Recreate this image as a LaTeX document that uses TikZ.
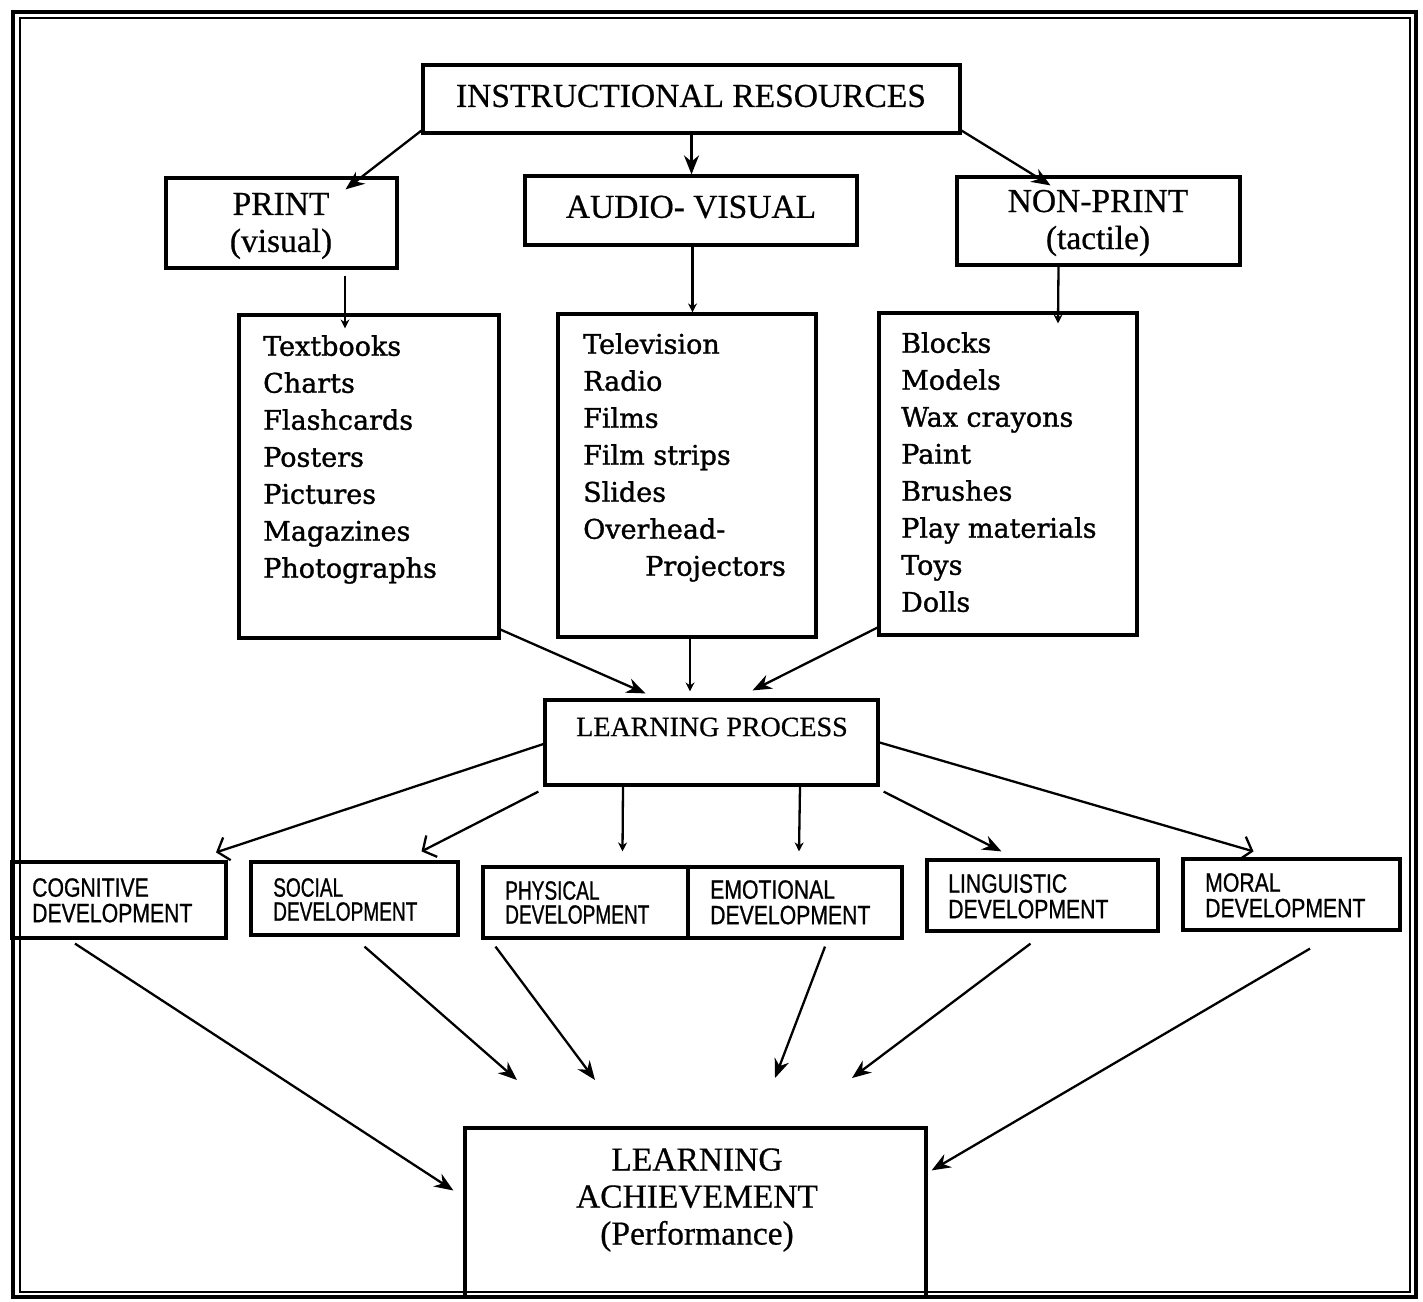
\documentclass[tikz,border=0pt]{standalone}
\usepackage{fontspec}
\setmainfont{Liberation Serif}
\newfontfamily\hdrfont[FakeBold=0.6]{Liberation Serif}
\newfontfamily\listfont[FakeBold=1.2]{DejaVu Serif}
\newfontfamily\devfont[FakeStretch=0.80,FakeBold=0.8]{Liberation Sans}
\newfontfamily\devfontn[FakeStretch=0.72,FakeBold=0.8]{Liberation Sans}
\usetikzlibrary{arrows.meta}
\begin{document}
\begin{tikzpicture}[x=1pt,y=-1pt,
  box/.style={draw,line width=3.2pt,inner sep=0pt,anchor=center},
  hdr/.style={font=\hdrfont\fontsize{33.5}{37}\selectfont,align=center,inner sep=0pt},
  lst/.style={font=\listfont\fontsize{27}{37}\selectfont,align=left,inner sep=0pt,anchor=north west},
  devt/.style={font=\devfont\fontsize{26.5}{25.5}\selectfont,align=left,inner sep=0pt,anchor=north west},
  devtn/.style={font=\devfontn\fontsize{26.5}{24}\selectfont,align=left,inner sep=0pt,anchor=north west},
  arr/.style={line width=2.3pt,-{Stealth[length=19pt,width=15pt]}},
  oarr/.style={line width=2.3pt,-{Straight Barb[length=10pt,width=24pt,line width=2.3pt]}},
  tarr/.style={line width=2.3pt,-{Stealth[length=9pt,width=9pt]}}]
\useasboundingbox (0,0) rectangle (1423,1301);
% outer frame
\draw[line width=3.5pt] (13,12) rectangle (1416,1297);
\draw[line width=1.2pt] (20,18) rectangle (1410,1292);

% top level
\node[box,minimum width=537pt,minimum height=68pt] (ir) at (691.5,99) {};
\node[hdr] (irt) at (691,96) {INSTRUCTIONAL RESOURCES};
\node[box,minimum width=231pt,minimum height=90pt] (print) at (281.5,223) {};
\node[hdr] (printt) at (281,226) {PRINT\\(visual)};
\node[box,minimum width=332pt,minimum height=69pt] (av) at (691,210.5) {};
\node[hdr] (avt) at (691,207) {AUDIO- VISUAL};
\node[box,minimum width=283pt,minimum height=88pt] (np) at (1098.5,221) {};
\node[hdr] (npt) at (1098,223) {NON-PRINT\\(tactile)};

% lists
\node[box,minimum width=260pt,minimum height=323pt] (pl) at (369,476.5) {};
\node[box,minimum width=258pt,minimum height=323pt] (avl) at (687,475.5) {};
\node[box,minimum width=258pt,minimum height=322pt] (npl) at (1008,474) {};
\node[lst] (plt) at (263,335) {Textbooks\\Charts\\Flashcards\\Posters\\Pictures\\Magazines\\Photographs};
\node[lst] (avlt) at (583,333) {Television\\Radio\\Films\\Film strips\\Slides\\Overhead-\\\hspace*{62pt}Projectors};
\node[lst] (nplt) at (901,332) {Blocks\\Models\\Wax crayons\\Paint\\Brushes\\Play materials\\Toys\\Dolls};

% learning process
\node[box,minimum width=333pt,minimum height=85pt] (lp) at (711.5,742.5) {};
\node[font=\hdrfont\fontsize{28}{32}\selectfont,inner sep=0pt] (lpt) at (712,727) {LEARNING PROCESS};

% development boxes
\node[box,minimum width=214pt,minimum height=76pt] (cog) at (119,900) {};
\node[box,minimum width=207pt,minimum height=73pt] (soc) at (354.5,898.5) {};
\node[box,minimum width=205pt,minimum height=71pt] (phy) at (585.5,902.5) {};
\node[box,minimum width=214pt,minimum height=71pt] (emo) at (795,902.5) {};
\node[box,minimum width=231pt,minimum height=71pt] (lin) at (1042.5,895.5) {};
\node[box,minimum width=217pt,minimum height=71pt] (mor) at (1291.5,894.5) {};
\node[devt] (cogt) at (32,878) {COGNITIVE\\DEVELOPMENT};
\node[devtn] (soct) at (273,878) {SOCIAL\\DEVELOPMENT};
\node[devtn] (phyt) at (505,881) {PHYSICAL\\DEVELOPMENT};
\node[devt] (emot) at (710,880) {EMOTIONAL\\DEVELOPMENT};
\node[devt] (lint) at (948,874) {LINGUISTIC\\DEVELOPMENT};
\node[devt] (mort) at (1205,873) {MORAL\\DEVELOPMENT};

% learning achievement
\node[box,minimum width=461pt,minimum height=169pt] (la) at (695.5,1212.5) {};
\node[hdr] (lat) at (697,1200) {LEARNING\\ACHIEVEMENT\\(Performance)};

% free ends
\coordinate (e1) at (517,1080);
\coordinate (e2) at (595,1080);
\coordinate (e3) at (775,1078);
\coordinate (e4) at (852,1078);

% connectors: top
\draw[arr] ([yshift=4pt]ir.south west) -- ([xshift=64pt,yshift=-13pt]print.north);
\draw[arr] (ir.south) -- (ir.south |- av.north);
\draw[arr] ([yshift=4pt]ir.south east) -- ([xshift=-48pt,yshift=-10pt]np.north);
\draw[tarr] ([xshift=63.5pt,yshift=-6pt]print.south) -- ([xshift=-24pt,yshift=-15pt]pl.north);
\draw[tarr] ([xshift=1.5pt]av.south) -- ([xshift=5.5pt]avl.north);
\draw[tarr] ([xshift=-40pt]np.south) -- ([xshift=50pt,yshift=-12pt]npl.north);
% into learning process
\draw[arr] ([yshift=10pt]pl.south east) -- ([xshift=-66pt,yshift=5pt]lp.north);
\draw[tarr] ([xshift=3pt]avl.south) -- ([xshift=-21.5pt,yshift=7pt]lp.north);
\draw[arr] ([yshift=9pt]npl.south west) -- ([xshift=41pt,yshift=8pt]lp.north);
% out of learning process
\draw[oarr] ([yshift=-1.5pt]lp.west) -- ([xshift=97pt,yshift=8pt]cog.north);
\draw[oarr] ([xshift=-5pt,yshift=-5pt]lp.south west) -- ([xshift=67pt,yshift=9pt]soc.north);
\draw[tarr] ([xshift=-88.5pt]lp.south) -- ([xshift=37pt,yshift=14pt]phy.north);
\draw[tarr] ([xshift=88.5pt]lp.south) -- ([xshift=4pt,yshift=14pt]emo.north);
\draw[arr] ([xshift=4pt,yshift=-5pt]lp.south east) -- ([xshift=-41pt,yshift=7pt]lin.north);
\draw[oarr] (lp.east) -- ([xshift=-38pt,yshift=6pt]mor.north);
% into learning achievement
\draw[arr] ([xshift=-44pt,yshift=-4pt]cog.south) -- ([xshift=-10pt,yshift=22pt]la.west);
\draw[arr] ([xshift=10pt,yshift=-10pt]soc.south) -- (e1);
\draw[arr] ([xshift=-90pt,yshift=-7pt]phy.south) -- (e2);
\draw[arr] ([xshift=30pt,yshift=-7pt]emo.south) -- (e3);
\draw[arr] ([xshift=-12pt,yshift=-11pt]lin.south) -- (e4);
\draw[arr] ([xshift=18.5pt,yshift=-17pt]mor.south) -- ([xshift=4pt,yshift=-44pt]la.north east);
\end{tikzpicture}
\end{document}
